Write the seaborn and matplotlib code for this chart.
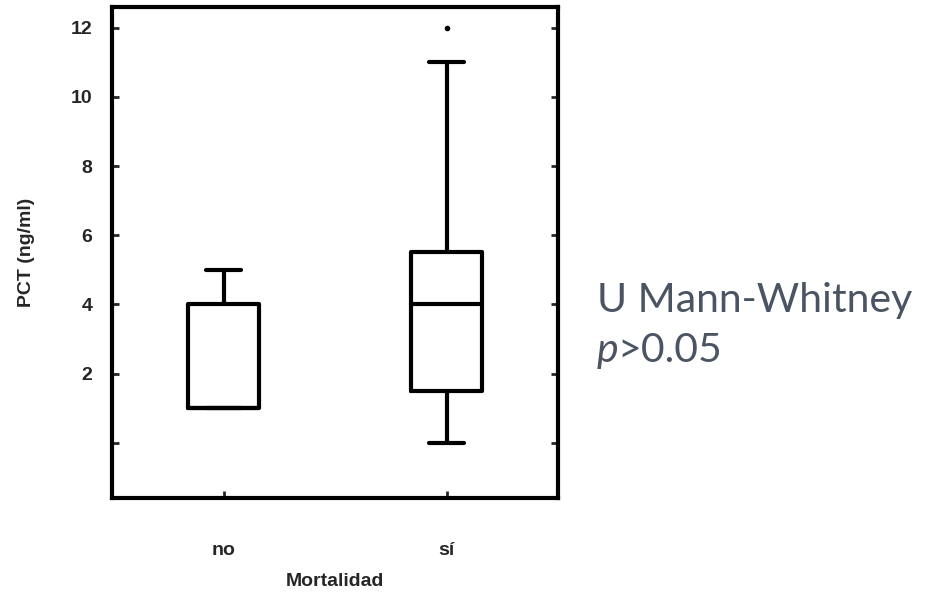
import numpy as np
import pandas as pd
import seaborn as sns
import matplotlib.pyplot as plt

# grupos y observaciones
groups = ["no", "sí"]
values_no = [1, 1, 1, 1, 4, 4, 5]
values_si = [0, 1, 1.5, 3, 4, 5, 5.5, 11, 12]
y_ticks = [0, 2, 4, 6, 8, 10, 12]
y_tick_labels = ["", "2", "4", "6", "8", "10", "12"]
y_label = "PCT (ng/ml)"
x_label = "Mortalidad"
note_line1 = "U Mann-Whitney"
note_line2 = "p"
note_line2b = ">0.05"


def build_frame():
    """
    Junta los dos grupos en un DataFrame largo.
    """
    df = pd.DataFrame({
        "grupo": [groups[0]] * len(values_no) + [groups[1]] * len(values_si),
        "valor": values_no + values_si,
    })
    return df


def main():
    df = build_frame()

    sns.set_style("ticks")
    plt.rcParams["font.family"] = ["Liberation Sans", "DejaVu Sans"]

    fig = plt.figure(figsize=(9.51, 5.92), dpi=100)
    ax = fig.add_axes([0.1178, 0.1588, 0.4690, 0.8294])

    line = dict(color="black", linewidth=3)
    sns.boxplot(data=df, x="grupo", y="valor", order=groups, ax=ax,
                width=0.32, whis=1.5, fill=False, color="black",
                linewidth=3,
                boxprops=line, whiskerprops=line, capprops=line,
                medianprops=line,
                flierprops=dict(marker="o", markersize=3,
                                markerfacecolor="black",
                                markeredgecolor="black"))

    ax.set_xlim(-0.5, 1.5)
    ax.set_ylim(-1.6, 12.6)
    ax.set_yticks(y_ticks)
    ax.set_yticklabels(y_tick_labels, fontsize=14, fontweight="bold")
    ax.tick_params(axis="y", direction="in", length=5, width=2,
                   right=True, pad=14)
    ax.tick_params(axis="x", direction="in", length=5, width=2,
                   labelsize=14, pad=32)
    for lab in ax.get_xticklabels():
        lab.set_fontweight("bold")
    for side in ["left", "right", "top", "bottom"]:
        ax.spines[side].set_visible(True)
        ax.spines[side].set_linewidth(3)
        ax.spines[side].set_color("black")

    ax.set_ylabel(y_label, fontsize=14, fontweight="bold", labelpad=26)
    ax.set_xlabel(x_label, fontsize=14, fontweight="bold", labelpad=10)

    # anotación de la prueba estadística
    fig.text(597 / 951, 1 - 312 / 592, note_line1, fontsize=29.5,
             family="Lato", color="#4a5462", va="baseline")
    t = fig.text(597 / 951, 1 - 362 / 592, note_line2, fontsize=29.5,
                 family="Lato", style="italic", color="#4a5462",
                 va="baseline")
    fig.canvas.draw()
    bb = t.get_window_extent()
    fig.text(bb.x1 / 951 - 0.001, 1 - 362 / 592, note_line2b,
             fontsize=29.5, family="Lato", color="#4a5462", va="baseline")

    fig.savefig("out.png", dpi=100)


if __name__ == "__main__":
    main()
